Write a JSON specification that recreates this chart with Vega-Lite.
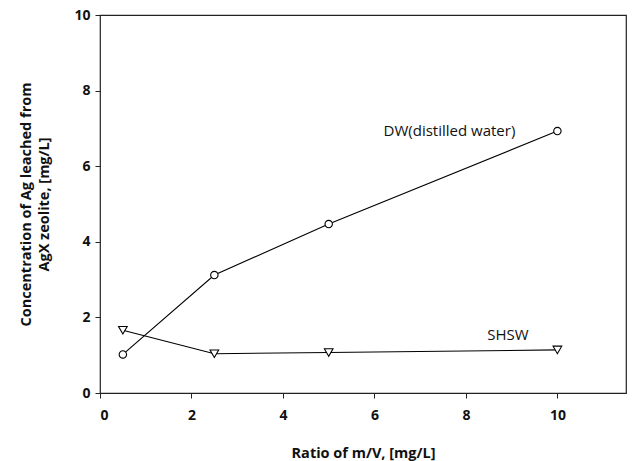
{
  "$schema": "https://vega.github.io/schema/vega-lite/v6.json",
  "autosize": {"type": "none"},
  "padding": {"left": 100, "top": 15, "right": 6, "bottom": 68},
  "width": 526,
  "height": 378,
  "background": "white",
  "config": {
    "view": {"stroke": "#222222", "strokeWidth": 1.2},
    "font": "Open Sans",
    "axis": {
      "grid": false,
      "domain": false,
      "tickColor": "#222222",
      "tickSize": 5,
      "labelFont": "Open Sans",
      "labelFontWeight": "bold",
      "labelFontSize": 14,
      "labelColor": "#111111",
      "titleFont": "Open Sans",
      "titleFontWeight": "bold",
      "titleFontSize": 14.5,
      "titleColor": "#111111"
    }
  },
  "datasets": {
    "series": [
      {"series": "DW", "ratio": 0.5, "conc": 1.02},
      {"series": "DW", "ratio": 2.5, "conc": 3.12},
      {"series": "DW", "ratio": 5, "conc": 4.47},
      {"series": "DW", "ratio": 10, "conc": 6.93},
      {"series": "SHSW", "ratio": 0.5, "conc": 1.66},
      {"series": "SHSW", "ratio": 2.5, "conc": 1.04},
      {"series": "SHSW", "ratio": 5, "conc": 1.07},
      {"series": "SHSW", "ratio": 10, "conc": 1.14}
    ],
    "labels": [
      {"label": "DW(distilled water)", "ratio": 9.08, "conc": 6.93},
      {"label": "SHSW", "ratio": 9.37, "conc": 1.53}
    ]
  },
  "layer": [
    {
      "data": {"name": "series"},
      "mark": {"type": "line", "color": "black", "strokeWidth": 1.1},
      "encoding": {
        "x": {
          "field": "ratio", "type": "quantitative",
          "scale": {"domain": [0, 11.5], "nice": false},
          "axis": {"values": [0, 2, 4, 6, 8, 10], "title": "Ratio of m/V, [mg/L]", "titlePadding": 24, "labelPadding": 10}
        },
        "y": {
          "field": "conc", "type": "quantitative",
          "scale": {"domain": [0, 10], "nice": false},
          "axis": {"values": [0, 2, 4, 6, 8, 10], "title": ["Concentration of Ag leached from", "AgX zeolite, [mg/L]"], "titlePadding": 22, "titleLineHeight": 18, "labelPadding": 5}
        },
        "detail": {"field": "series"}
      }
    },
    {
      "data": {"name": "series"},
      "mark": {"type": "point", "filled": true, "fill": "white", "stroke": "black", "strokeWidth": 1.1, "opacity": 1},
      "encoding": {
        "x": {"field": "ratio", "type": "quantitative"},
        "y": {"field": "conc", "type": "quantitative"},
        "shape": {
          "field": "series", "type": "nominal",
          "scale": {"domain": ["DW", "SHSW"], "range": ["circle", "triangle-down"]},
          "legend": null
        },
        "size": {
          "field": "series", "type": "nominal",
          "scale": {"domain": ["DW", "SHSW"], "range": [55, 75]},
          "legend": null
        }
      }
    },
    {
      "data": {"name": "labels"},
      "mark": {"type": "text", "align": "right", "baseline": "middle", "font": "Open Sans", "fontSize": 15, "color": "#111111"},
      "encoding": {
        "x": {"field": "ratio", "type": "quantitative"},
        "y": {"field": "conc", "type": "quantitative"},
        "text": {"field": "label"}
      }
    }
  ]
}
